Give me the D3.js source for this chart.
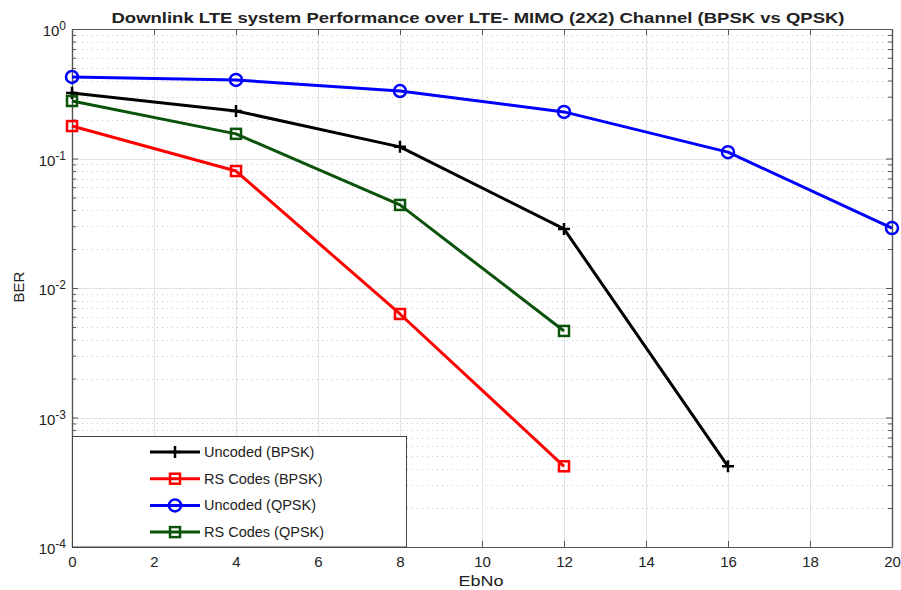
<!DOCTYPE html>
<html>
<head>
<meta charset="utf-8">
<script src="https://cdn.jsdelivr.net/npm/d3@7"></script>
<style>
  body { margin: 0; background: #fff; }
  svg { font-family: "Liberation Sans", Arial, sans-serif; }
  .grid-major { stroke: #e3e3e3; stroke-width: 1; }
  .grid-minor { stroke: #c8c8c8; stroke-width: 1; stroke-dasharray: 1,4; }
</style>
</head>
<body>
<div id="chart"></div>
<script>
// data
var ebno = [0, 4, 8, 12, 16, 20];
var uncodedBPSK = [0.32, 0.233, 0.123, 0.0286, 0.00042];
var rsBPSK = [0.178, 0.080, 0.0063, 0.00042];
var uncodedQPSK = [0.426, 0.404, 0.332, 0.229, 0.112, 0.029];
var rsQPSK = [0.278, 0.155, 0.0438, 0.00466];

var xTicks = [0, 2, 4, 6, 8, 10, 12, 14, 16, 18, 20];
var yDecades = [0, -1, -2, -3, -4];

var seriesList = [
    {name: 'Uncoded (BPSK)', values: uncodedBPSK, color: '#000000', marker: 'plus'},
    {name: 'RS Codes (BPSK)', values: rsBPSK, color: '#ff0000', marker: 'square'},
    {name: 'Uncoded (QPSK)', values: uncodedQPSK, color: '#0000ff', marker: 'circle'},
    {name: 'RS Codes (QPSK)', values: rsQPSK, color: '#0b520b', marker: 'square'}
];

var W = 901, H = 590;
var pLeft = 72, pRight = 892, pTop = 29, pBottom = 547;

var svg = d3.select('#chart').append('svg')
    .attr('width', W).attr('height', H);

var x = d3.scaleLinear().domain([0, 20]).range([pLeft, pRight]);
var y = d3.scaleLog().domain([1e-4, 1]).range([pBottom, pTop]);

// minor log values
var minors = [];
yDecades.forEach(function(e){
    if (e == 0) return;
    for (var k = 2; k <= 9; k++) minors.push(k * Math.pow(10, e));
});

var grid = svg.append('g');
grid.selectAll('line.gm').data(minors).enter().append('line')
    .attr('class', 'grid-minor')
    .attr('x1', pLeft).attr('x2', pRight)
    .attr('y1', function(d){ return Math.round(y(d)) + 0.5; })
    .attr('y2', function(d){ return Math.round(y(d)) + 0.5; });
grid.selectAll('line.gy').data(yDecades).enter().append('line')
    .attr('class', 'grid-major')
    .attr('x1', pLeft).attr('x2', pRight)
    .attr('y1', function(d){ return Math.round(y(Math.pow(10, d))) + 0.5; })
    .attr('y2', function(d){ return Math.round(y(Math.pow(10, d))) + 0.5; });
grid.selectAll('line.gx').data(xTicks).enter().append('line')
    .attr('class', 'grid-major')
    .attr('y1', pTop).attr('y2', pBottom)
    .attr('x1', function(d){ return Math.round(x(d)) + 0.5; })
    .attr('x2', function(d){ return Math.round(x(d)) + 0.5; });

// axes (box with inward ticks)
var axColor = '#555';
var decadeVals = yDecades.map(function(e){ return Math.pow(10, e); });
var xb = svg.append('g').attr('transform', 'translate(0,' + pBottom + ')')
    .call(d3.axisBottom(x).tickValues(xTicks).tickSizeInner(-6).tickSizeOuter(0).tickPadding(9));
var xt = svg.append('g').attr('transform', 'translate(0,' + pTop + ')')
    .call(d3.axisTop(x).tickValues(xTicks).tickSizeInner(-6).tickSizeOuter(0).tickFormat(''));
var yl = svg.append('g').attr('transform', 'translate(' + pLeft + ',0)')
    .call(d3.axisLeft(y).tickValues(decadeVals).tickSizeInner(-6).tickSizeOuter(0).tickFormat(''));
var yr = svg.append('g').attr('transform', 'translate(' + pRight + ',0)')
    .call(d3.axisRight(y).tickValues(decadeVals).tickSizeInner(-6).tickSizeOuter(0).tickFormat(''));
var ylm = svg.append('g').attr('transform', 'translate(' + pLeft + ',0)')
    .call(d3.axisLeft(y).tickValues(minors).tickSizeInner(-4).tickSizeOuter(0).tickFormat(''));
var yrm = svg.append('g').attr('transform', 'translate(' + pRight + ',0)')
    .call(d3.axisRight(y).tickValues(minors).tickSizeInner(-4).tickSizeOuter(0).tickFormat(''));

[xb, xt, yl, yr, ylm, yrm].forEach(function(g){
    g.select('.domain').attr('stroke', axColor).attr('stroke-width', 1.2);
    g.selectAll('.tick line').attr('stroke', axColor);
});
xb.selectAll('.tick text').attr('font-size', 15).attr('fill', '#222')
    .attr('font-family', '"Liberation Sans", Arial, sans-serif');

// y tick labels with superscript
var ylab = svg.append('g');
yDecades.forEach(function(e){
    var t = ylab.append('text')
        .attr('x', 66).attr('y', y(Math.pow(10, e)) + 7)
        .attr('text-anchor', 'end').attr('font-size', 15).attr('fill', '#222');
    t.append('tspan').text('10');
    t.append('tspan').attr('dy', -6).attr('font-size', 12).text(String(e));
});

// lines
var line = d3.line()
    .x(function(d, i){ return x(ebno[i]); })
    .y(function(d){ return y(d); });

function drawMarker(g, type, cx, cy, color){
    if (type == 'circle') {
        g.append('circle').attr('cx', cx).attr('cy', cy).attr('r', 6)
            .attr('fill', 'none').attr('stroke', color).attr('stroke-width', 2.5);
    } else if (type == 'square') {
        g.append('rect').attr('x', cx - 5).attr('y', cy - 5)
            .attr('width', 10).attr('height', 10)
            .attr('fill', 'none').attr('stroke', color).attr('stroke-width', 2.5);
    } else {
        g.append('path')
            .attr('d', 'M' + (cx - 6) + ',' + cy + 'H' + (cx + 6) + 'M' + cx + ',' + (cy - 6) + 'V' + (cy + 6))
            .attr('stroke', color).attr('stroke-width', 2.5);
    }
}

var plot = svg.append('g');
seriesList.forEach(function(s){
    plot.append('path').datum(s.values)
        .attr('d', line)
        .attr('fill', 'none')
        .attr('stroke', s.color)
        .attr('stroke-width', 3)
        .attr('stroke-linejoin', 'round');
    s.values.forEach(function(v, i){
        drawMarker(plot, s.marker, x(ebno[i]), y(v), s.color);
    });
});

// legend
var lg = svg.append('g');
lg.append('rect').attr('x', pLeft + 0.5).attr('y', 436.5)
    .attr('width', 334).attr('height', pBottom - 436.5)
    .attr('fill', '#fff').attr('stroke', '#444').attr('stroke-width', 1);
seriesList.forEach(function(s, i){
    var ly = 452 + i * 26.7;
    lg.append('line').attr('x1', 150).attr('x2', 200)
        .attr('y1', ly).attr('y2', ly)
        .attr('stroke', s.color).attr('stroke-width', 3);
    drawMarker(lg, s.marker, 175, ly, s.color);
    lg.append('text').attr('x', 204).attr('y', ly + 5)
        .attr('font-size', 14.5).attr('fill', '#222').text(s.name);
});

// titles
svg.append('text').attr('x', 478).attr('y', 23)
    .attr('text-anchor', 'middle').attr('font-size', 15).attr('font-weight', 'bold')
    .attr('fill', '#222')
    .attr('textLength', 733).attr('lengthAdjust', 'spacingAndGlyphs')
    .text('Downlink LTE system Performance over LTE- MIMO (2X2) Channel (BPSK vs QPSK)');
svg.append('text').attr('x', 481).attr('y', 586)
    .attr('text-anchor', 'middle').attr('font-size', 15).attr('fill', '#222')
    .attr('textLength', 45).attr('lengthAdjust', 'spacingAndGlyphs').text('EbNo');
svg.append('text')
    .attr('transform', 'translate(24,287) rotate(-90)')
    .attr('text-anchor', 'middle').attr('font-size', 15).attr('fill', '#222').text('BER');
</script>
</body>
</html>
